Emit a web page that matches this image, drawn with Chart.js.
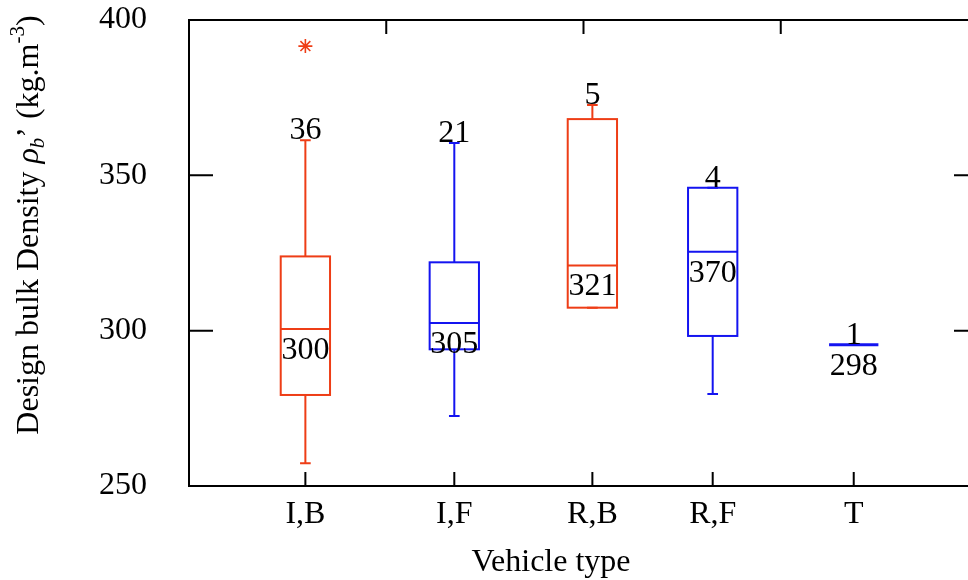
<!DOCTYPE html>
<html>
<head>
<meta charset="utf-8">
<script src="https://cdn.jsdelivr.net/npm/chart.js@4.4.1/dist/chart.umd.min.js"></script>
<style>
  html, body { margin: 0; padding: 0; background: #fff; overflow: hidden; }
  #wrap { width: 990px; height: 580px; position: relative; }
</style>
</head>
<body>
<div id="wrap"><canvas id="chart"></canvas></div>
<script>
// vehicle types and where they sit on the 0..4 horizontal scale
const cats = ['I,B', 'I,F', 'R,B', 'R,F', 'T'];
const catPos = [0.59, 1.345, 2.045, 2.655, 3.37];

// box plot stats (kg/m3)
const lowWhisker = [257.3, 272.5, 307.4, 279.6, 295.5];
const q1 = [279.3, 294.0, 307.4, 298.3, 295.5];
const median = [300.5, 302.5, 321.0, 325.4, 295.5];
const q3 = [323.9, 322.0, 368.1, 346.0, 295.5];
const highWhisker = [361.3, 360.4, 372.6, 346.0, 295.5];
const outliers = [{ x: 0.59, y: 391.6 }];

// text shown above whiskers and under medians
const countTags = ['36', '21', '5', '4', '1'];
const medianTags = ['300', '305', '321', '370', '298'];

const yTicks = [250, 300, 350, 400];

const RED = '#ee3d16';
const BLUE = '#1414f0';
const boxColors = [RED, BLUE, RED, BLUE, BLUE];
const FONT = "'Liberation Serif', 'Times New Roman', serif";

const boxPlugin = {
    id: 'boxes',
    afterDraw(chart) {
        const { ctx, chartArea: a, scales: { x, y } } = chart;
        ctx.save();

        // frame
        ctx.strokeStyle = '#000';
        ctx.lineWidth = 2;
        ctx.strokeRect(a.left, a.top, a.right - a.left, a.bottom - a.top);

        // inward ticks
        ctx.beginPath();
        yTicks.forEach(v => {
            const py = y.getPixelForValue(v);
            ctx.moveTo(a.left, py); ctx.lineTo(a.left + 24, py);
            ctx.moveTo(a.right, py); ctx.lineTo(a.right - 24, py);
        });
        catPos.forEach(v => {
            const px = x.getPixelForValue(v);
            ctx.moveTo(px, a.bottom); ctx.lineTo(px, a.bottom - 14);
        });
        [1, 2, 3].forEach(v => {
            const px = x.getPixelForValue(v);
            ctx.moveTo(px, a.top); ctx.lineTo(px, a.top + 14);
        });
        ctx.stroke();

        // boxes
        cats.forEach((c, i) => {
            const cx = x.getPixelForValue(catPos[i]);
            const l = x.getPixelForValue(catPos[i] - 0.125);
            const r = x.getPixelForValue(catPos[i] + 0.125);
            const capL = x.getPixelForValue(catPos[i] - 0.027);
            const capR = x.getPixelForValue(catPos[i] + 0.027);
            const yLo = y.getPixelForValue(lowWhisker[i]);
            const yQ1 = y.getPixelForValue(q1[i]);
            const yMed = y.getPixelForValue(median[i]);
            const yQ3 = y.getPixelForValue(q3[i]);
            const yHi = y.getPixelForValue(highWhisker[i]);
            ctx.strokeStyle = boxColors[i];

            if (q1[i] === q3[i]) {
                ctx.lineWidth = 3;
                ctx.beginPath();
                ctx.moveTo(l, yMed); ctx.lineTo(r, yMed);
                ctx.stroke();
            } else {
                ctx.lineWidth = 2;
                ctx.strokeRect(l, yQ3, r - l, yQ1 - yQ3);
                ctx.beginPath();
                ctx.moveTo(l, yMed); ctx.lineTo(r, yMed);
                ctx.moveTo(cx, yQ3); ctx.lineTo(cx, yHi);
                ctx.moveTo(capL, yHi); ctx.lineTo(capR, yHi);
                ctx.moveTo(cx, yQ1); ctx.lineTo(cx, yLo);
                ctx.moveTo(capL, yLo); ctx.lineTo(capR, yLo);
                ctx.stroke();
            }

            ctx.fillStyle = '#000';
            ctx.font = '32px ' + FONT;
            ctx.textAlign = 'center';
            ctx.textBaseline = 'alphabetic';
            ctx.fillText(countTags[i], cx, yHi - 1);
            ctx.fillText(medianTags[i], cx, yMed + 30);
        });

        // axis titles
        ctx.fillStyle = '#000';
        ctx.textAlign = 'center';
        ctx.textBaseline = 'alphabetic';
        ctx.font = '32px ' + FONT;
        ctx.fillText('Vehicle type', 551, 571);

        const parts = [
            { t: 'Design bulk Density ', f: '32px ' + FONT, dy: 0 },
            { t: 'ρ', f: 'italic 32px ' + FONT, dy: 0 },
            { t: 'b', f: 'italic 21px ' + FONT, dy: 6 },
            { t: '’ (kg.m', f: '32px ' + FONT, dy: 0 },
            { t: '-3', f: '21px ' + FONT, dy: -14 },
            { t: ')', f: '32px ' + FONT, dy: 0 }
        ];
        let total = 0;
        parts.forEach(p => { ctx.font = p.f; p.w = ctx.measureText(p.t).width; total += p.w; });
        ctx.translate(38, 225);
        ctx.rotate(-Math.PI / 2);
        ctx.textAlign = 'left';
        let tx = -total / 2;
        parts.forEach(p => {
            ctx.font = p.f;
            ctx.fillText(p.t, tx, p.dy);
            tx += p.w;
        });
        ctx.restore();
    }
};

new Chart(document.getElementById('chart'), {
    type: 'scatter',
    data: {
        datasets: [{
            label: 'Outliers',
            data: outliers,
            pointStyle: 'star',
            pointRadius: 7,
            borderColor: RED,
            borderWidth: 1.6,
            backgroundColor: RED
        }]
    },
    options: {
        responsive: true,
        maintainAspectRatio: false,
        animation: false,
        layout: { padding: { top: 20, right: 12, left: 0, bottom: 0 } },
        plugins: { legend: { display: false }, tooltip: { enabled: false } },
        scales: {
            x: {
                type: 'linear',
                min: 0,
                max: 4,
                grid: { display: false, drawTicks: false },
                border: { display: false },
                afterBuildTicks: scale => { scale.ticks = catPos.map(v => ({ value: v })); },
                afterFit: scale => {
                    scale.height = 94;
                    scale.paddingLeft = 0;
                    scale.paddingRight = 0;
                },
                ticks: {
                    autoSkip: false,
                    maxRotation: 0,
                    padding: 9,
                    color: '#000',
                    font: { family: FONT, size: 32 },
                    callback: (v, i) => cats[i]
                }
            },
            y: {
                min: 250,
                max: 400,
                grid: { display: false, drawTicks: false },
                border: { display: false },
                afterBuildTicks: scale => { scale.ticks = yTicks.map(v => ({ value: v })); },
                afterFit: scale => {
                    scale.width = 189;
                    scale.paddingTop = 0;
                    scale.paddingBottom = 0;
                },
                ticks: {
                    padding: 42,
                    color: '#000',
                    font: { family: FONT, size: 32 }
                }
            }
        }
    },
    plugins: [boxPlugin]
});
</script>
</body>
</html>
